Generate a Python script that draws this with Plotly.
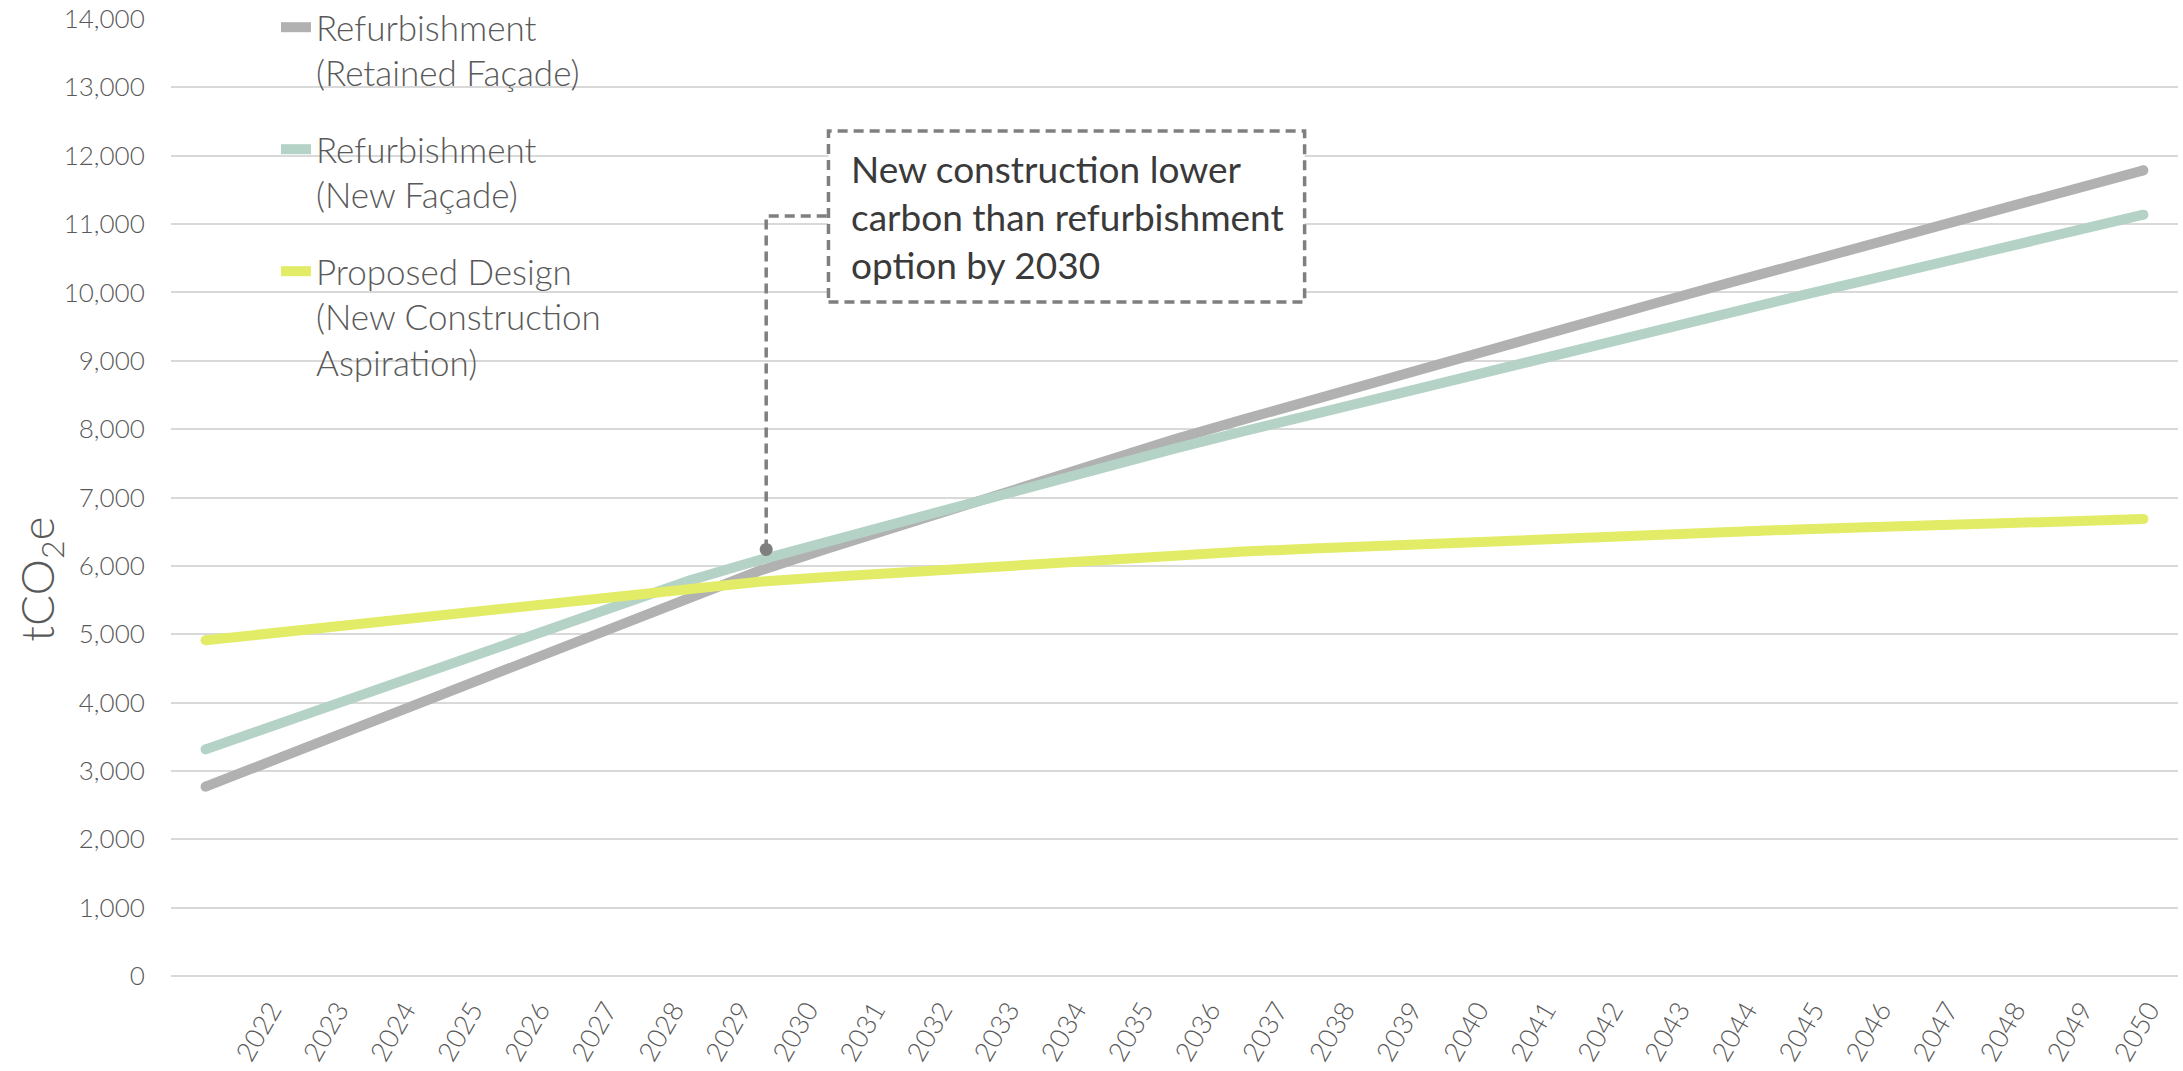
import plotly.graph_objects as go

# Annual cumulative carbon, tCO2e
years = list(range(2022, 2051))
year_labels = [str(y) for y in years]

refurb_retained = [2770, 3168, 3564, 3959, 4353, 4746, 5139, 5534, 5928, 6257,
                   6580, 6900, 7218, 7535, 7850, 8143, 8434, 8722, 9008, 9293,
                   9576, 9857, 10136, 10413, 10689, 10964, 11238, 11512, 11786]
refurb_new = [3315, 3670, 4024, 4378, 4731, 5084, 5436, 5788, 6085, 6363,
              6637, 6909, 7179, 7448, 7716, 7969, 8220, 8470, 8719, 8967,
              9214, 9462, 9703, 9942, 10181, 10420, 10659, 10898, 11138]
proposed = [4912, 5023, 5133, 5243, 5353, 5462, 5571, 5680, 5768, 5836,
            5902, 5968, 6034, 6099, 6164, 6209, 6253, 6297, 6341, 6384,
            6427, 6470, 6502, 6533, 6564, 6595, 6626, 6655, 6684]

series_names = ["Refurbishment<br>(Retained Façade)",
                "Refurbishment<br>(New Façade)",
                "Proposed Design<br>(New Construction<br>Aspiration)"]
series_values = [refurb_retained, refurb_new, proposed]
series_colors = ["#B1B1B1", "#B4D2C6", "#E2EC66"]

# callout
callout_year = 2030.1
callout_value = 6240
callout_text = "New construction lower<br>carbon than refurbishment<br>option by 2030"

FONT = "Lato"
LABEL_GREY = "#595959"
CALLOUT_GREY = "#7F7F7F"

fig = go.Figure()

for i, (name, vals, col) in enumerate(zip(series_names, series_values, series_colors)):
    fig.add_trace(go.Scatter(
        x=years, y=vals, mode="lines", name=name,
        line=dict(color=col, width=10),
        legendgroup=f"g{i}", hoverinfo="skip",
    ))
    # rounded line ends
    fig.add_trace(go.Scatter(
        x=[years[0], years[-1]], y=[vals[0], vals[-1]], mode="markers",
        marker=dict(color=col, size=10, line=dict(width=0)),
        showlegend=False, legendgroup=f"g{i}", hoverinfo="skip",
    ))

# callout dot
fig.add_trace(go.Scatter(
    x=[callout_year], y=[callout_value], mode="markers",
    marker=dict(color=CALLOUT_GREY, size=13, line=dict(width=0)),
    showlegend=False, hoverinfo="skip",
))

# invisible carrier for the year-label axis
fig.add_trace(go.Scatter(
    x=[years[0], years[-1]], y=[0, 0], xaxis="x2", mode="markers",
    marker=dict(opacity=0), showlegend=False, hoverinfo="skip",
))

box_x0, box_x1 = 2031.0, 2037.88
box_y0, box_y1 = 9860, 12360
leader_y = 11118

fig.add_shape(type="rect", xref="x", yref="y",
              x0=box_x0, x1=box_x1, y0=box_y0, y1=box_y1,
              line=dict(color=CALLOUT_GREY, width=3.5, dash="10px,6px"),
              fillcolor="white", layer="above")
fig.add_shape(type="path", xref="x", yref="y",
              path=f"M {callout_year},{callout_value} L {callout_year},{leader_y} L {box_x0},{leader_y}",
              line=dict(color=CALLOUT_GREY, width=3.5, dash="10px,6px"),
              layer="above")

fig.add_annotation(
    x=box_x0 + 0.3, y=(box_y0 + box_y1) / 2, xref="x", yref="y",
    text=callout_text, showarrow=False, xanchor="left", yanchor="middle",
    align="left", font=dict(family=FONT, size=37, color="#3A3A3A", weight=400),
)

# y-axis title
fig.add_annotation(
    x=-0.0653, y=0.415, xref="paper", yref="paper",
    text="tCO<sub>2</sub>e", showarrow=False, textangle=-90,
    xanchor="center", yanchor="middle",
    font=dict(family=FONT, size=46, color=LABEL_GREY, weight=300),
)

fig.update_layout(
    width=2183, height=1071,
    margin=dict(l=171, r=5, t=19, b=95, autoexpand=False),
    paper_bgcolor="white", plot_bgcolor="white",
    font=dict(family=FONT, color=LABEL_GREY, weight=300),
    showlegend=True,
    legend=dict(
        x=0.0523, y=1.022, xanchor="left", yanchor="top",
        bgcolor="rgba(0,0,0,0)", borderwidth=0,
        font=dict(family=FONT, size=35, color=LABEL_GREY, weight=300),
        valign="top", tracegroupgap=28, itemwidth=30,
    ),
    xaxis=dict(
        type="linear", range=[2021.5, 2050.5],
        showgrid=False, zeroline=False, showline=False, ticks="",
        showticklabels=False, fixedrange=True,
    ),
    xaxis2=dict(
        type="linear", overlaying="x", anchor="y", side="bottom",
        range=[2020.509, 2050.433],
        tickmode="array", tickvals=years, ticktext=year_labels,
        tickangle=-60, ticklabelstandoff=12,
        showgrid=False, zeroline=False, showline=False, ticks="",
        tickfont=dict(family=FONT, size=27, color=LABEL_GREY, weight=300),
        fixedrange=True,
    ),
    yaxis=dict(
        range=[0, 14000], dtick=1000, tickformat=",",
        showgrid=True, gridcolor="#D9D9D9", gridwidth=1.5,
        zeroline=True, zerolinecolor="#D9D9D9", zerolinewidth=1.5,
        showline=False, ticks="outside", ticklen=20, tickcolor="rgba(0,0,0,0)",
        tickfont=dict(family=FONT, size=26, color=LABEL_GREY, weight=300),
        fixedrange=True,
    ),
)

fig.write_html("out.html")
